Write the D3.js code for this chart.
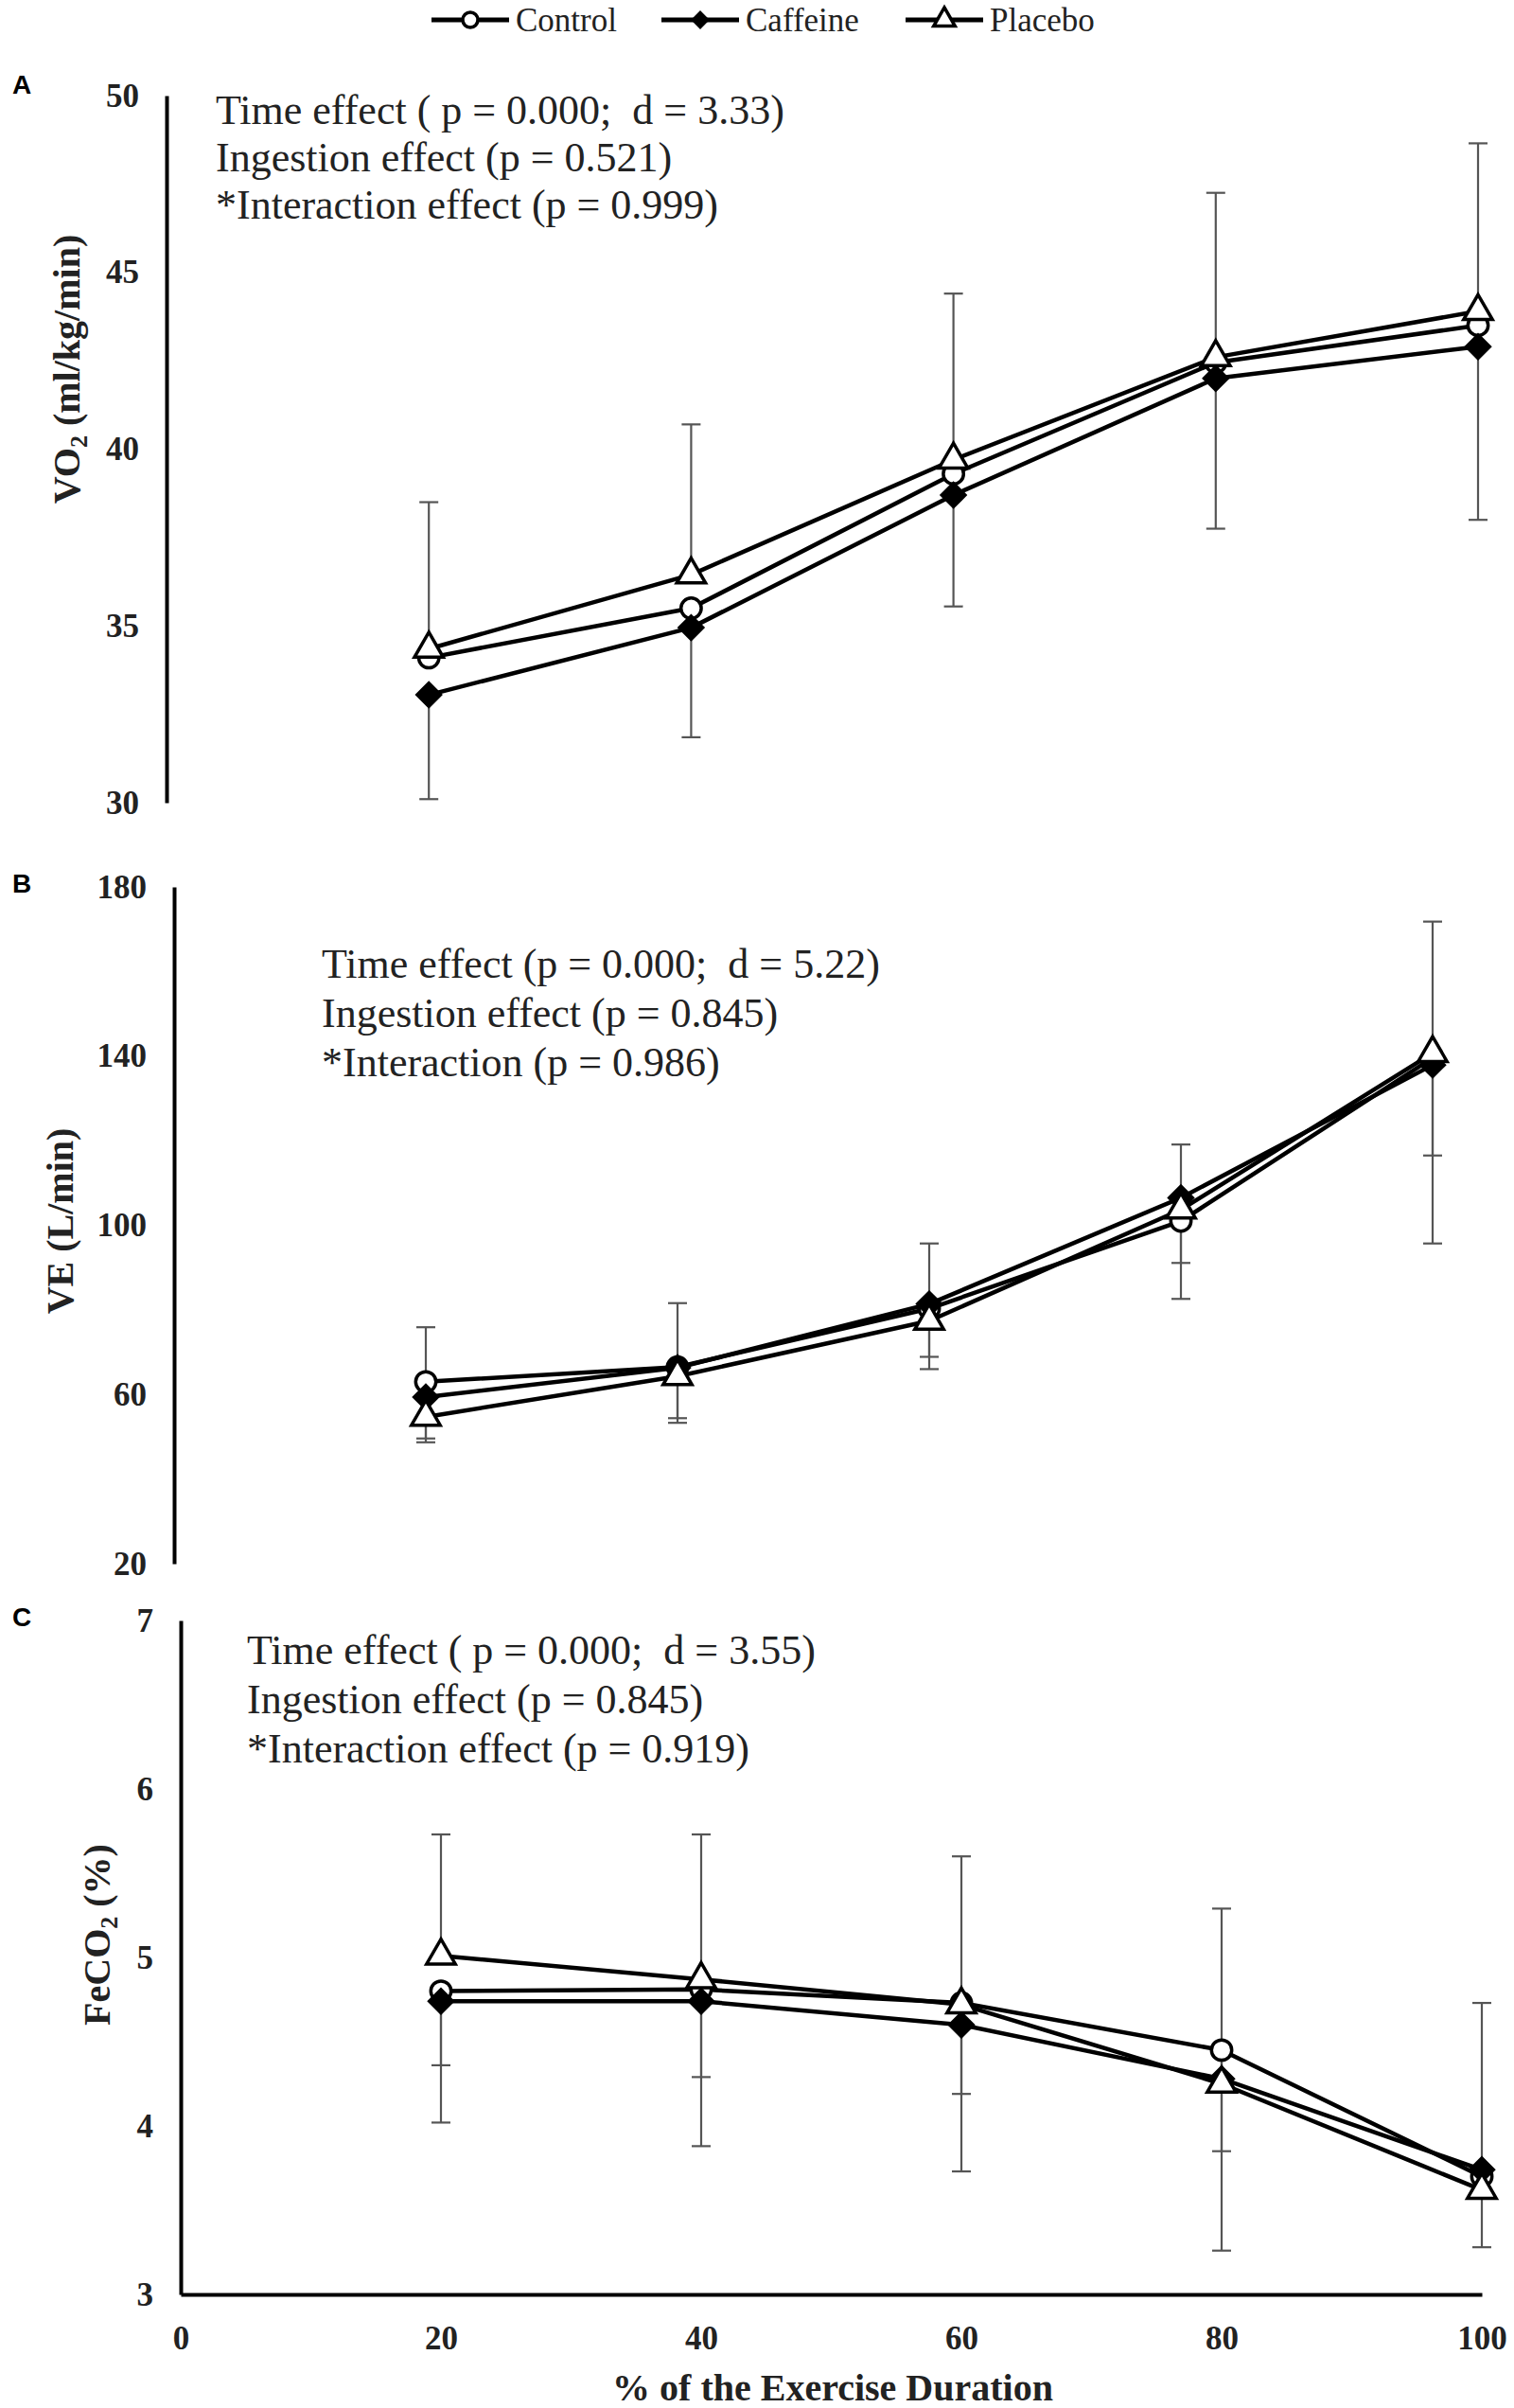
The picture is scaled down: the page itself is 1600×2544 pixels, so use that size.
<!DOCTYPE html>
<html>
<head>
<meta charset="utf-8">
<script src="https://cdn.jsdelivr.net/npm/d3@7"></script>
<style>
  body { margin: 0; background: #fff; }
  svg text { white-space: pre; }
</style>
</head>
<body>
<script>
// x = % of exercise duration
var xValues = [20, 40, 60, 80, 100];
var xTicks = [0, 20, 40, 60, 80, 100];
var seriesNames = ["Control", "Caffeine", "Placebo"];

// A : VO2 (ml/kg/min)
var vo2Control  = [34.1, 35.5, 39.3, 42.45, 43.5];
var vo2Caffeine = [33.05, 34.95, 38.7, 42.0, 42.9];
var vo2Placebo  = [34.35, 36.45, 39.7, 42.6, 43.9];
var vo2ControlErr  = [null, null, null, null, null];
var vo2CaffeineErr = [30.1, 31.85, 35.55, 37.75, 38.0];
var vo2PlaceboErr  = [38.5, 40.7, 44.4, 47.25, 48.65];
var vo2Ticks = [30, 35, 40, 45, 50];
var vo2Notes = ["Time effect ( p = 0.000;  d = 3.33)", "Ingestion effect (p = 0.521)", "*Interaction effect (p = 0.999)"];

// B : VE (L/min)
var veControl  = [63.0, 66.5, 80.3, 101.0, 139.6];
var veCaffeine = [59.4, 66.3, 81.4, 106.5, 137.9];
var vePlacebo  = [54.7, 64.3, 77.4, 103.7, 140.7];
var veControlErr  = [48.7, 53.3, 66.0, 82.6, 95.7];
var veCaffeineErr = [49.6, 54.4, 68.9, 91.1, 116.5];
var vePlaceboErr  = [75.9, 81.6, 95.7, 119.1, 171.8];
var veTicks = [20, 60, 100, 140, 180];
var veNotes = ["Time effect (p = 0.000;  d = 5.22)", "Ingestion effect (p = 0.845)", "*Interaction (p = 0.986)"];

// C : FeCO2 (%)
var feControl  = [4.80, 4.81, 4.73, 4.45, 3.70];
var feCaffeine = [4.74, 4.74, 4.60, 4.28, 3.74];
var fePlacebo  = [5.01, 4.87, 4.72, 4.25, 3.62];
var feControlErr  = [4.02, 3.88, 3.73, 3.26, 3.28];
var feCaffeineErr = [4.36, 4.29, 4.19, 3.85, null];
var fePlaceboErr  = [5.73, 5.73, 5.60, 5.29, 4.73];
var feTicks = [3, 4, 5, 6, 7];
var feNotes = ["Time effect ( p = 0.000;  d = 3.55)", "Ingestion effect (p = 0.845)", "*Interaction effect (p = 0.919)"];

var W = 1600, H = 2544;
var serif = "'Liberation Serif', 'Times New Roman', serif";

var svg = d3.select("body").append("svg")
  .attr("width", W).attr("height", H)
  .attr("viewBox", "0 0 " + W + " " + H);

// marker shapes
var markerPath = {
  "Control":  d3.symbol().type(d3.symbolCircle).size(360)(),
  "Caffeine": d3.symbol().type(d3.symbolSquare).size(300)(),
  "Placebo":  d3.symbol().type(d3.symbolTriangle).size(400)()
};
var markerFill = { "Control": "#fff", "Caffeine": "#000", "Placebo": "#fff" };
var markerRot = { "Control": 0, "Caffeine": 45, "Placebo": 0 };

var panels = [
  { letter: "A", x0: 176, x1: 1562, yTop: 101, yBot: 848, domain: [30, 50], ticks: vo2Ticks,
    title: ["VO", "2", " (ml/kg/min)"], titleX: 70, titleY: 390,
    notes: vo2Notes, noteX: 228, noteY: 131, noteDy: 50, letterY: 89,
    values: [vo2Control, vo2Caffeine, vo2Placebo], errs: [vo2ControlErr, vo2CaffeineErr, vo2PlaceboErr] },
  { letter: "B", x0: 184, x1: 1514, yTop: 937, yBot: 1652, domain: [20, 180], ticks: veTicks,
    title: ["VE (L/min)"], titleX: 63, titleY: 1290,
    notes: veNotes, noteX: 340, noteY: 1033, noteDy: 52, letterY: 933,
    values: [veControl, veCaffeine, vePlacebo], errs: [veControlErr, veCaffeineErr, vePlaceboErr] },
  { letter: "C", x0: 191, x1: 1566, yTop: 1712, yBot: 2424, domain: [3, 7], ticks: feTicks,
    title: ["FeCO", "2", " (%)"], titleX: 102, titleY: 2044,
    notes: feNotes, noteX: 261, noteY: 1758, noteDy: 52, letterY: 1708, xAxis: true,
    values: [feControl, feCaffeine, fePlacebo], errs: [feControlErr, feCaffeineErr, fePlaceboErr] }
];

panels.forEach(function(p) {
  var x = d3.scaleLinear().domain([0, 100]).range([p.x0, p.x1]);
  var y = d3.scaleLinear().domain(p.domain).range([p.yBot, p.yTop]);
  var g = svg.append("g");

  // y axis
  var ya = g.append("g").attr("transform", "translate(" + p.x0 + ",0)")
    .call(d3.axisLeft(y).tickValues(p.ticks).tickSize(0).tickPadding(29).tickFormat(d3.format("d")));
  ya.select(".domain").attr("stroke", "#000").attr("stroke-width", 4);
  ya.selectAll("text").attr("font-family", serif).attr("font-weight", "bold")
    .attr("font-size", 35).attr("fill", "#222");

  if (p.xAxis) {
    var xa = g.append("g").attr("transform", "translate(0," + p.yBot + ")")
      .call(d3.axisBottom(x).tickValues(xTicks).tickSize(0).tickPadding(33));
    xa.select(".domain").attr("stroke", "#000").attr("stroke-width", 4);
    xa.selectAll("text").attr("font-family", serif).attr("font-weight", "bold")
      .attr("font-size", 35).attr("fill", "#222");
  }

  // panel letter
  g.append("text").attr("x", 23).attr("y", p.letterY).attr("dy", "0.36em")
    .attr("text-anchor", "middle").attr("font-family", "'Liberation Sans', Arial, sans-serif")
    .attr("font-weight", "bold").attr("font-size", 28).text(p.letter);

  // y title
  var t = g.append("text").attr("transform", "translate(" + p.titleX + "," + p.titleY + ") rotate(-90)")
    .attr("text-anchor", "middle").attr("dy", "0.35em")
    .attr("font-family", serif).attr("font-weight", "bold").attr("font-size", 40).attr("fill", "#222");
  t.append("tspan").text(p.title[0]);
  if (p.title.length > 1) {
    t.append("tspan").attr("font-size", 26).attr("dy", 8).text(p.title[1]);
    t.append("tspan").attr("dy", -8).text(p.title[2]);
  }

  // annotations
  g.selectAll("text.note").data(p.notes).enter().append("text")
    .attr("class", "note")
    .attr("x", p.noteX).attr("y", function(d, i) { return p.noteY + i * p.noteDy; })
    .attr("font-family", serif).attr("font-size", 44).attr("fill", "#222")
    .text(function(d) { return d; });

  // error bars
  p.values.forEach(function(vals, s) {
    var eg = g.append("g").attr("stroke", "#555").attr("stroke-width", 2.2);
    xValues.forEach(function(xv, i) {
      var e = p.errs[s][i];
      if (e == null) return;
      eg.append("line").attr("x1", x(xv)).attr("x2", x(xv)).attr("y1", y(vals[i])).attr("y2", y(e));
      eg.append("line").attr("x1", x(xv) - 10).attr("x2", x(xv) + 10).attr("y1", y(e)).attr("y2", y(e));
    });
  });

  // lines and markers
  var line = d3.line().x(function(d, i) { return x(xValues[i]); }).y(function(d) { return y(d); });
  p.values.forEach(function(vals, s) {
    var name = seriesNames[s];
    g.append("path").datum(vals).attr("d", line)
      .attr("fill", "none").attr("stroke", "#000").attr("stroke-width", 4.5).attr("stroke-linejoin", "round");
    g.selectAll("path.m" + s).data(vals).enter().append("path")
      .attr("class", "m" + s)
      .attr("d", markerPath[name])
      .attr("transform", function(d, i) {
        return "translate(" + x(xValues[i]) + "," + y(d) + ") rotate(" + markerRot[name] + ")";
      })
      .attr("fill", markerFill[name]).attr("stroke", "#000").attr("stroke-width", 3.5);
  });
});

// x title
svg.append("text").attr("x", 880).attr("y", 2536).attr("text-anchor", "middle")
  .attr("font-family", serif).attr("font-weight", "bold").attr("font-size", 40).attr("fill", "#222")
  .text("% of the Exercise Duration");

// legend
var legendX = [456, 699, 957];
var legendMarker = {
  "Control":  d3.symbol().type(d3.symbolCircle).size(200)(),
  "Caffeine": d3.symbol().type(d3.symbolSquare).size(110)(),
  "Placebo":  d3.symbol().type(d3.symbolTriangle).size(220)()
};
var leg = svg.append("g").attr("transform", "translate(0,21)");
seriesNames.forEach(function(name, i) {
  var lx = legendX[i];
  leg.append("line").attr("x1", lx).attr("x2", lx + 82).attr("y1", 0).attr("y2", 0)
    .attr("stroke", "#000").attr("stroke-width", 5);
  leg.append("path").attr("d", legendMarker[name])
    .attr("transform", "translate(" + (lx + 41) + ",0) rotate(" + markerRot[name] + ")")
    .attr("fill", markerFill[name]).attr("stroke", "#000").attr("stroke-width", 3.5);
  leg.append("text").attr("x", lx + 89).attr("y", 0).attr("dy", "0.34em")
    .attr("font-family", serif).attr("font-size", 35).attr("fill", "#222")
    .text(name);
});
</script>
</body>
</html>
